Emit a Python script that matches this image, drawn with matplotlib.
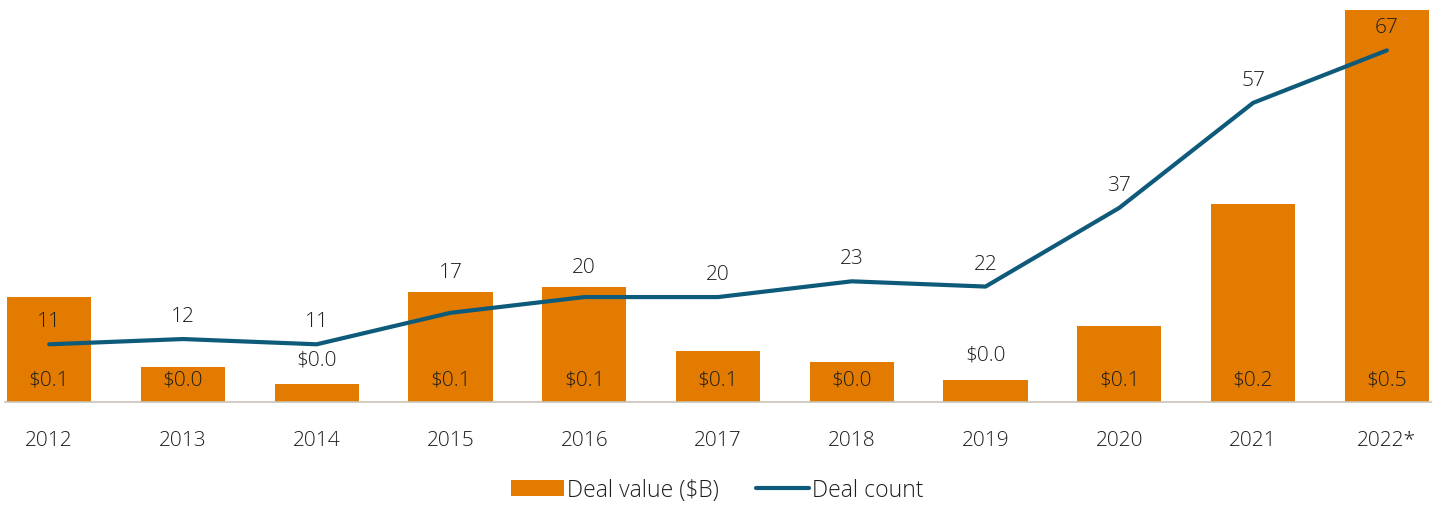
import matplotlib.pyplot as plt
import numpy as np

years = ["2012", "2013", "2014", "2015", "2016", "2017", "2018", "2019", "2020", "2021", "2022*"]
deal_value = [0.129, 0.043, 0.022, 0.135, 0.141, 0.062, 0.049, 0.027, 0.093, 0.242, 0.48]
deal_count = [11, 12, 11, 17, 20, 20, 23, 22, 37, 57, 67]

orange = "#E37B00"
teal = "#0E5A7A"
txt = "#1E1E1E"

plt.rcParams["font.family"] = ["Open Sans", "DejaVu Sans"]
plt.rcParams["font.weight"] = 300

fig = plt.figure(figsize=(14.35, 5.06), dpi=100)
ax = fig.add_axes([0.0035, 0.2035, 0.9937, 0.7945])
ax2 = ax.twinx()

x = np.arange(len(years))
bars = ax.bar(x, deal_value, width=0.63, color=orange, label="Deal value ($B)", zorder=1)
ax.set_ylim(0, 0.492)
ax.set_xlim(-0.33, len(years) - 1 + 0.33)

for xi, v in zip(x, deal_value):
    lab = f"${v:.1f}"
    if v < 0.03:
        ax.annotate(lab, (xi, v), xytext=(0, 18), textcoords="offset points",
                    ha="center", va="center", fontsize=15, color=txt)
    else:
        ax.annotate(lab, (xi, 0), xytext=(0, 16.5), textcoords="offset points",
                    ha="center", va="center", fontsize=15, color=txt)

line, = ax2.plot(x, deal_count, color=teal, lw=3, solid_capstyle="round",
                 label="Deal count", zorder=3)
ax2.set_ylim(0, 76.6)

# count labels sit above the line, pushed over a bar top when they would collide
for xi, c, v in zip(x, deal_count, deal_value):
    pt_px = ax2.transData.transform((xi, c))[1]
    bar_px = ax.transData.transform((xi, v))[1]
    lab_px = pt_px + 23
    if bar_px - 14 < lab_px < bar_px + 14:
        lab_px = bar_px + 20
    ax2.annotate(str(c), (xi, c), xytext=(0, lab_px - pt_px), textcoords="offset pixels",
                 ha="center", va="center", fontsize=15, color=txt)

for a in (ax, ax2):
    for s in ("top", "right", "left"):
        a.spines[s].set_visible(False)
    a.set_yticks([])
ax2.spines["bottom"].set_visible(False)
ax.spines["bottom"].set_color("#C8C4B8")
ax.spines["bottom"].set_linewidth(1.2)

ax.set_xticks(x)
ax.set_xticklabels(years, fontsize=15, color=txt)
ax.tick_params(axis="x", length=0, pad=20)

fig.legend(handles=[bars, line], loc="center", bbox_to_anchor=(0.5, 0.03),
           ncol=2, frameon=False, fontsize=16.5, handlelength=2.3,
           handletextpad=0.15, columnspacing=1.6, labelcolor=txt)

fig.savefig("out.png", dpi=100)
